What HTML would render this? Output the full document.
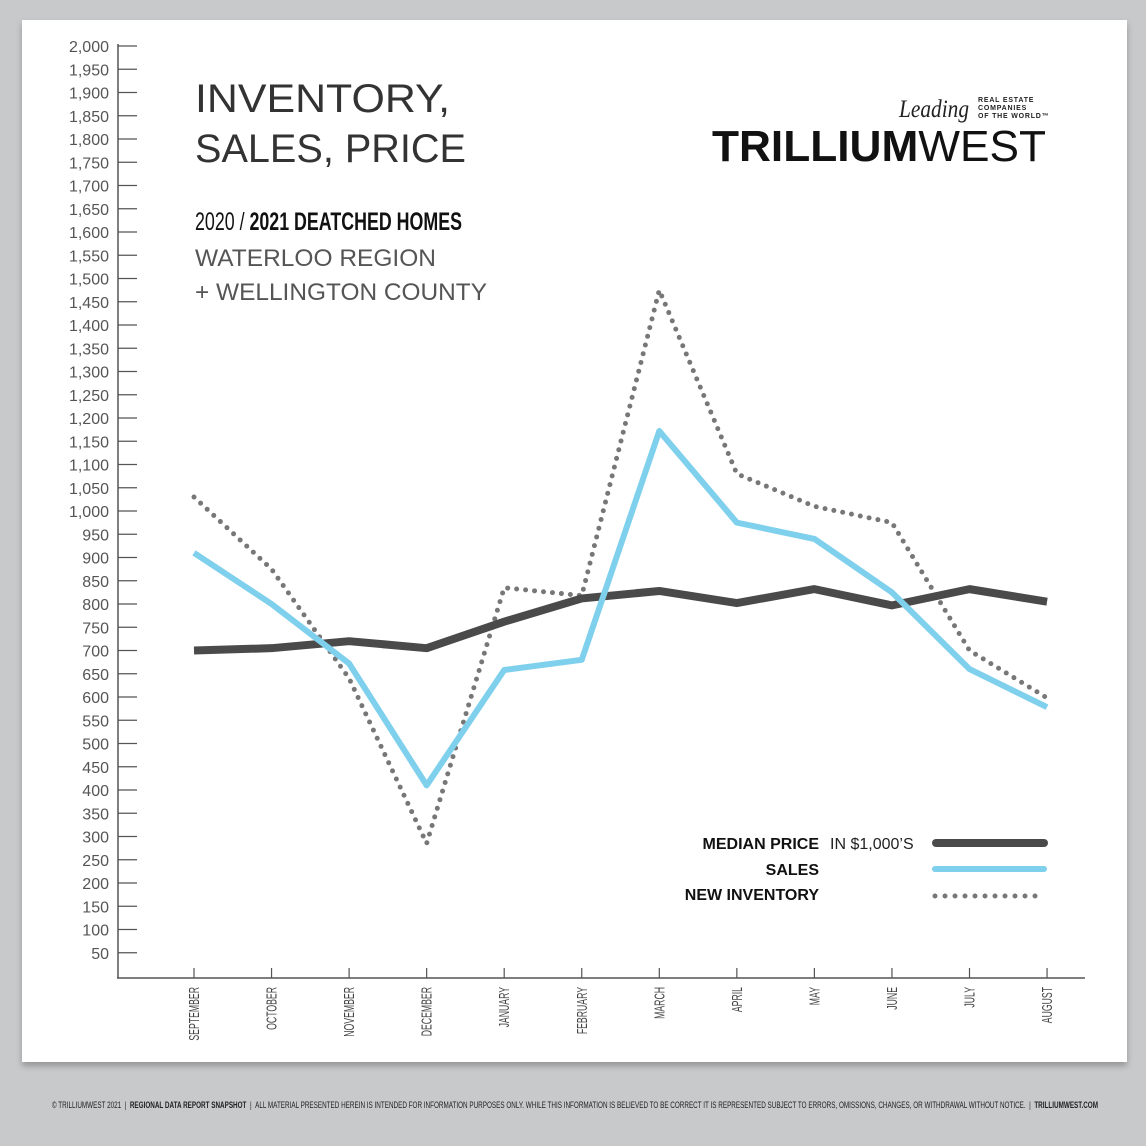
<!DOCTYPE html>
<html><head><meta charset="utf-8"><style>
body{margin:0;width:1146px;height:1146px;background:#c8c9cb;overflow:hidden;font-family:"Liberation Sans",sans-serif}
#card{position:absolute;left:22px;top:20px;width:1105px;height:1042px;background:#fff;box-shadow:0 4px 6px rgba(0,0,0,.25)}
svg{position:absolute;left:0;top:0}
</style></head><body>
<div id="card"></div>
<svg id="chart" width="1146" height="1146"></svg>
<script>
const months=["SEPTEMBER","OCTOBER","NOVEMBER","DECEMBER","JANUARY","FEBRUARY","MARCH","APRIL","MAY","JUNE","JULY","AUGUST"];
const medianPrice=[700,705,720,705,762,812,828,802,832,797,832,805];
const sales=[910,800,672,410,658,680,1172,975,940,825,660,578];
const newInventory=[1030,875,640,285,835,818,1475,1080,1010,975,700,598];
const yTicks=[];for(let v=50;v<=2000;v+=50)yTicks.push(v);
const NS="http://www.w3.org/2000/svg";
const svg=document.getElementById('chart');
function X(i){return 194+i*77.55;}
function Y(v){return 976-v*(930/2000);}
function el(t,a,txt){const e=document.createElementNS(NS,t);for(const k in a)e.setAttribute(k,a[k]);if(txt!=null)e.textContent=txt;svg.appendChild(e);return e;}
let a=el('line',{x1:118,y1:44,x2:118,y2:978,stroke:'#555','stroke-width':1.5});

a=el('line',{x1:117,y1:978,x2:1085,y2:978,stroke:'#555','stroke-width':1.5});

yTicks.forEach(v=>{
  const y=Y(v);
  const t=el('line',{x1:118,y1:y,x2:137,y2:y,stroke:'#555','stroke-width':1.2});
  
  const l=el('text',{x:109,y:y+6,'text-anchor':'end','font-size':16,fill:'#555'},v.toLocaleString('en-US'));
  
});
months.forEach((m,i)=>{
  const x=X(i);
  const t=el('line',{x1:x,y1:968,x2:x,y2:978,stroke:'#555','stroke-width':1.2});
  
  const l=el('text',{x:0,y:0,'text-anchor':'end','font-size':15,fill:'#444',transform:`translate(${x+5},987) rotate(-90) scale(0.58,1)`},m);
  
});
function pts(arr){return arr.map((v,i)=>X(i)+','+Y(v)).join(' ');}
let p=el('polyline',{points:pts(newInventory),fill:'none',stroke:'#777','stroke-width':5,'stroke-linecap':'round','stroke-dasharray':'0 9'});

p=el('polyline',{points:pts(medianPrice),fill:'none',stroke:'#4a4a4a','stroke-width':8,'stroke-linejoin':'round'});

p=el('polyline',{points:pts(sales),fill:'none',stroke:'#7fd0ec','stroke-width':6,'stroke-linejoin':'round'});

let t=el('text',{x:195,y:112,'font-size':40,fill:'#333',textLength:255,lengthAdjust:'spacingAndGlyphs'},'INVENTORY,');

t=el('text',{x:195,y:162,'font-size':40,fill:'#333',textLength:271,lengthAdjust:'spacingAndGlyphs'},'SALES, PRICE');

t=el('text',{x:195,y:230,'font-size':25,fill:'#111',textLength:267,lengthAdjust:'spacingAndGlyphs'});

t.innerHTML='2020 / <tspan font-weight="bold">2021 DEATCHED HOMES</tspan>';
t=el('text',{x:195,y:266,'font-size':24,fill:'#555',textLength:241,lengthAdjust:'spacingAndGlyphs'},'WATERLOO REGION');

t=el('text',{x:195,y:300,'font-size':24,fill:'#555',textLength:292,lengthAdjust:'spacingAndGlyphs'},'+ WELLINGTON COUNTY');

t=el('text',{x:899,y:117,'font-size':25,'font-style':'italic','font-family':'Liberation Serif',fill:'#222',textLength:70,lengthAdjust:'spacingAndGlyphs'},'Leading');

[['REAL ESTATE',102],['COMPANIES',110],['OF THE WORLD™',118]].forEach(([s,y])=>{
  const q=el('text',{x:978,y:y,'font-size':7,'font-weight':'bold',fill:'#222','letter-spacing':.8},s);
  
});
t=el('text',{x:712,y:161,'font-size':44,fill:'#111',textLength:334,lengthAdjust:'spacingAndGlyphs'});

t.innerHTML='<tspan font-weight="bold">TRILLIUM</tspan>WEST';
const legend=[["MEDIAN PRICE",843],["SALES",869],["NEW INVENTORY",894]];
legend.forEach(([n,y])=>{
  const l=el('text',{x:819,y:y+6,'text-anchor':'end','font-size':16,'font-weight':'bold',fill:'#111'},n);
  
});
t=el('text',{x:830,y:849,'font-size':16,fill:'#222'},'IN $1,000\u2019S');

let L=el('line',{x1:936,y1:843,x2:1044,y2:843,stroke:'#4a4a4a','stroke-width':8,'stroke-linecap':'round'});

L=el('line',{x1:935,y1:869,x2:1044,y2:869,stroke:'#7fd0ec','stroke-width':6,'stroke-linecap':'round'});

L=el('line',{x1:935,y1:896,x2:1045,y2:896,stroke:'#777','stroke-width':5,'stroke-linecap':'round','stroke-dasharray':'0 10'});

t=el('text',{x:52,y:1108,'font-size':9,fill:'#222',textLength:1046,lengthAdjust:'spacingAndGlyphs'});

t.innerHTML='© TRILLIUMWEST 2021 &#160;| &#160;<tspan font-weight="bold">REGIONAL DATA REPORT SNAPSHOT</tspan> &#160;| &#160;ALL MATERIAL PRESENTED HEREIN IS INTENDED FOR INFORMATION PURPOSES ONLY. WHILE THIS INFORMATION IS BELIEVED TO BE CORRECT IT IS REPRESENTED SUBJECT TO ERRORS, OMISSIONS, CHANGES, OR WITHDRAWAL WITHOUT NOTICE. &#160;| &#160;<tspan font-weight="bold">TRILLIUMWEST.COM</tspan>';
</script>
</body></html>
